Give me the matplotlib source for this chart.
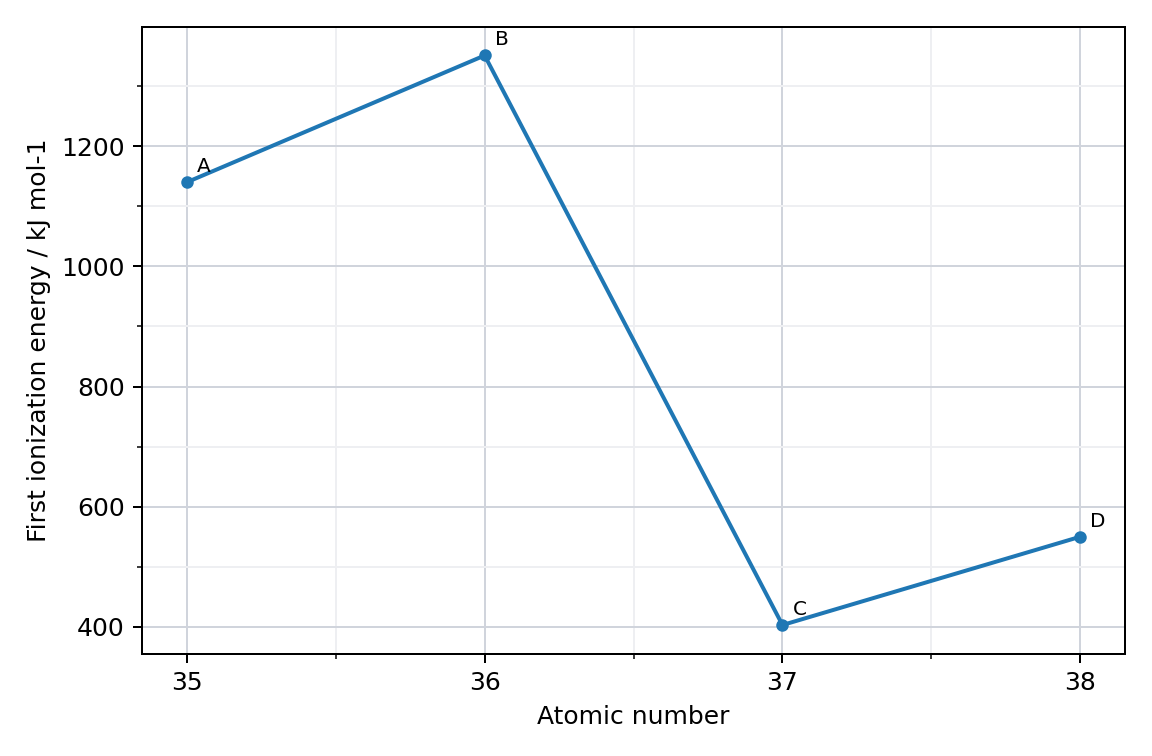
import matplotlib
matplotlib.use("Agg")
import matplotlib.pyplot as plt
from matplotlib.ticker import AutoMinorLocator

atomic_numbers = [35, 36, 37, 38]
energies = [1140, 1351, 403, 550]
labels = ["A", "B", "C", "D"]

fig, ax = plt.subplots(figsize=(6.4, 4.2), dpi=180)
ax.plot(atomic_numbers, energies, color="#1f77b4", linewidth=1.6, marker="o", markersize=4)
for x, y, t in zip(atomic_numbers, energies, labels):
    ax.annotate(t, (x, y), xytext=(4, 4), textcoords="offset points", fontsize=8)

ax.set_xticks(atomic_numbers)
ax.xaxis.set_minor_locator(AutoMinorLocator(2))
ax.yaxis.set_minor_locator(AutoMinorLocator(2))
ax.grid(which="major", color="#d0d4dc", linewidth=0.8)
ax.grid(which="minor", color="#eeeff2", linewidth=0.8)
ax.set_axisbelow(True)
ax.set_xlabel("Atomic number")
ax.set_ylabel("First ionization energy / kJ mol-1")
fig.tight_layout()
fig.savefig("out.png", dpi=180)
